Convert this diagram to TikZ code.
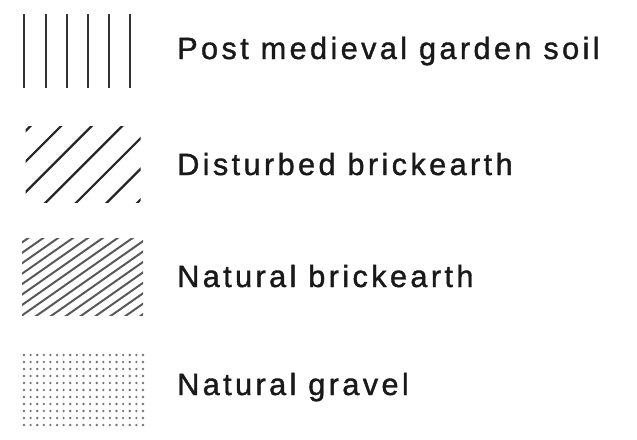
\documentclass[tikz,border=0pt]{standalone}
\usepackage{fontspec}
\setmainfont{Liberation Sans}[LetterSpace=11,FakeBold=1.2]
\begin{document}
\begin{tikzpicture}[x=1pt,y=-1pt,
  lbl/.style={anchor=base west, inner sep=0pt, font=\fontsize{30.7}{36}\selectfont, text=black!90},
  vline/.style={line width=2.3pt, draw=black!80},
  hatchA/.style={line width=2.2pt, draw=black!85},
  hatchB/.style={line width=2.0pt, draw=black!65},
  gdot/.style={fill=black!55}]
\useasboundingbox (0,0) rectangle (637,439);
% swatch 1: vertical lines
\foreach \x in {24,46,67,88,109,130} \draw[vline] (\x,14) -- (\x,88);
% swatch 2: wide diagonal hatch
\begin{scope}
\clip (25.5,126) rectangle (140.5,202.5);
\foreach \k in {0,...,6} \draw[hatchA] ({156.5+30.6*\k-100},100) -- ({156.5+30.6*\k-230},230);
\end{scope}
% swatch 3: dense diagonal hatch
\begin{scope}
\clip (22,238) rectangle (143,315);
\foreach \k in {-1,...,15} \draw[hatchB] ({28.3+14.9*\k+100},168) -- ({28.3+14.9*\k-200},378);
\end{scope}
% swatch 4: dot grid
\foreach \i in {0,...,18} \foreach \j in {0,...,10} \fill[gdot] ({24+6.61*\i},{355+7*\j}) circle (1.3);
% labels
\node[lbl] (t1) at (177,59) {Post medieval garden soil};
\node[lbl] (t2) at (177,175) {Disturbed brickearth};
\node[lbl] (t3) at (177,287) {Natural brickearth};
\node[lbl] (t4) at (177,395) {Natural gravel};
\end{tikzpicture}
\end{document}
